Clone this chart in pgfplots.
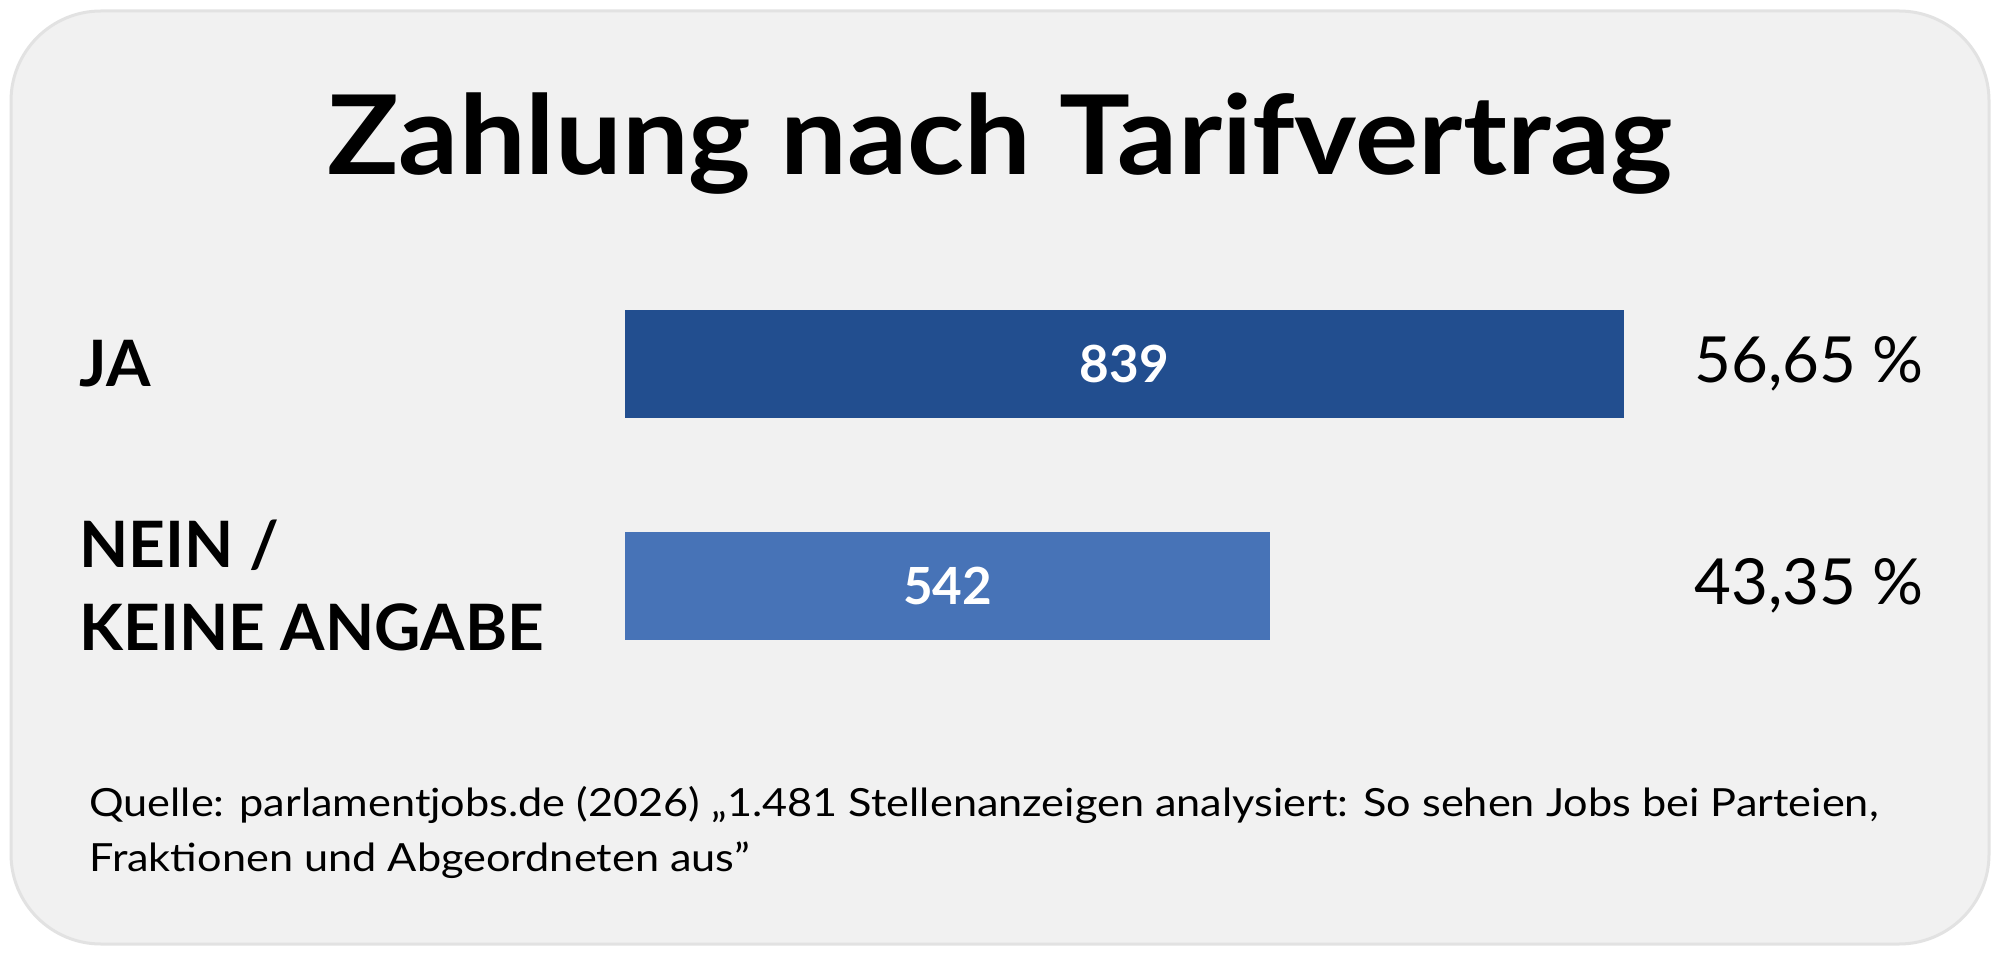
\documentclass[border=0pt]{standalone}
\usepackage{pgfplots}
\pgfplotsset{compat=1.18}
\usepackage{fontspec}
\setmainfont{Lato}
\newfontfamily\titlefont[FakeStretch=1.077]{Lato}
\newfontfamily\sourcefont[FakeStretch=1.115]{Lato}
\definecolor{bg}{HTML}{F1F1F1}
\definecolor{bd}{HTML}{E2E2E2}
\definecolor{darkbar}{HTML}{224E8F}
\definecolor{lightbar}{HTML}{4773B7}
\begin{document}
\begin{tikzpicture}[x=0.5pt,y=0.5pt]
\useasboundingbox (0,0) rectangle (2000,954);
\fill[white] (0,0) rectangle (2000,954);
\draw[bd, fill=bg, line width=1.5pt, rounded corners=45pt] (11,10) rectangle (1989,943);
\node[anchor=base, inner sep=0pt, font=\titlefont\fontsize{55}{60}\selectfont\bfseries] at (1000,779) {Zahlung nach Tarifvertrag};
\node[anchor=base west, inner sep=0pt, font=\sourcefont\fontsize{19.4}{24}\selectfont] at (89,138) {Quelle: parlamentjobs.de (2026) „1.481 Stellenanzeigen analysiert: So sehen Jobs bei Parteien,};
\node[anchor=base west, inner sep=0pt, font=\sourcefont\fontsize{19.4}{24}\selectfont] at (89,83) {Fraktionen und Abgeordneten aus”};
\begin{axis}[
  at={(312.5pt,128.75pt)}, anchor=south west,
  scale only axis, width=499.5pt, height=222pt,
  xmin=0, xmax=839, ymin=-0.5, ymax=1.5,
  clip=false,
  axis line style={draw=none}, tick style={draw=none},
  xtick=\empty, ytick={0,1},
  yticklabels={{NEIN /\\KEINE ANGABE},{JA}},
  yticklabel style={anchor=west, xshift=-273pt, align=left, inner sep=0pt,
    font=\fontsize{32}{41.5}\selectfont\bfseries},
  bar width=54pt, bar shift=0pt,
]
\addplot[xbar, fill=darkbar, draw=none] coordinates {(839,1)};
\addplot[xbar, fill=lightbar, draw=none] coordinates {(542,0)};
% value labels centred in the bars
\addplot[draw=none, mark=none, nodes near coords, point meta=explicit symbolic,
  nodes near coords style={anchor=center, inner sep=0pt, text=white,
    font=\fontsize{25.6}{30}\selectfont\bfseries}]
  coordinates {(419.5,1) [839] (271,0) [542]};
% percentages to the right
\addplot[draw=none, mark=none, nodes near coords, point meta=explicit symbolic,
  nodes near coords style={anchor=west, inner sep=0pt,
    font=\fontsize{31.8}{36}\selectfont}]
  coordinates {(897.8,1) [{56,65 \%}] (897.8,0) [{43,35 \%}]};
\end{axis}
\end{tikzpicture}
\end{document}
